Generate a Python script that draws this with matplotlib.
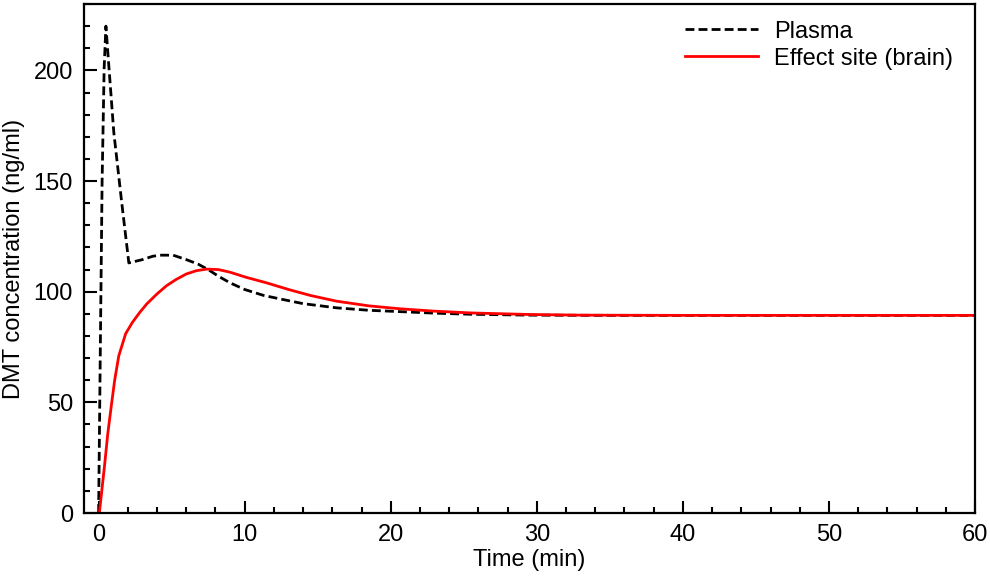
import matplotlib
matplotlib.use("Agg")
import matplotlib.pyplot as plt
from matplotlib.ticker import MultipleLocator

plt.rcParams['font.family'] = ['Liberation Sans', 'DejaVu Sans']

# Plasma concentration (ng/ml) vs time (min)
plasma_t = [0, 0.13, 0.24, 0.38, 0.5, 0.7, 1.04, 1.57, 2.07, 3.0, 3.7, 4.2, 5.1,
            6.0, 6.8, 7.5, 8.2, 9.0, 10.0, 11.3, 12.6, 14.0, 16.3, 18.5, 20.6,
            23.0, 25.5, 29.5, 35.0, 60.0]
plasma_c = [0, 82, 150, 201, 220, 202, 172, 141, 113, 114.5, 116, 116.5, 116.5,
            114.5, 112.5, 110, 107, 104, 101, 98.3, 96.5, 94.6, 92.7, 91.6, 91.0,
            90.3, 89.8, 89.4, 89.3, 89.3]

# Effect site (brain) concentration
effect_t = [0.05, 0.4, 0.63, 0.9, 1.1, 1.38, 1.85, 2.3, 2.8, 3.3, 4.0, 4.65, 5.3,
            6.0, 6.7, 7.4, 8.2, 9.0, 10.1, 11.5, 13.0, 14.5, 16.3, 18.5, 20.6,
            23.0, 25.5, 29.5, 33.0, 40.0, 60.0]
effect_c = [0, 21, 36, 50, 60, 71, 81, 86, 90.5, 94.5, 99, 102.7, 105.5,
            108, 109.5, 110.2, 110, 108.8, 106.5, 104, 101, 98.3, 95.7, 93.6, 92.3,
            91.2, 90.4, 89.7, 89.4, 89.3, 89.3]

FS = 17

fig = plt.figure(figsize=(9.9, 5.77), dpi=100)
ax = fig.add_axes([84/990, 1-513/577, (975-84)/990, (513-4)/577])

ax.plot(plasma_t, plasma_c, color='black', linestyle=(0, (3.2, 1.5)), linewidth=2.0,
        label='Plasma')
ax.plot(effect_t, effect_c, color='#ff0000', linestyle='-', linewidth=2.0,
        label='Effect site (brain)')

ax.set_xlim(-1, 60)
ax.set_ylim(0, 230)
ax.xaxis.set_major_locator(MultipleLocator(10))
ax.xaxis.set_minor_locator(MultipleLocator(2))
ax.yaxis.set_major_locator(MultipleLocator(50))
ax.yaxis.set_minor_locator(MultipleLocator(10))
ax.tick_params(which='both', direction='in', width=1.5, labelsize=FS, pad=8,
               top=False, right=False)
ax.tick_params(which='major', length=9)
ax.tick_params(which='minor', length=4.5)
for s in ax.spines.values():
    s.set_linewidth(1.6)

ax.set_xlabel('Time (min)', fontsize=FS, labelpad=2)
ax.set_ylabel('DMT concentration (ng/ml)', fontsize=FS, labelpad=6)

ax.legend(loc='upper right', bbox_to_anchor=(1 - 5/891, 1), frameon=False,
          fontsize=FS, handlelength=3.1, handletextpad=0.7, labelspacing=0.22,
          borderaxespad=0.3)

fig.savefig('out.png', dpi=100)
